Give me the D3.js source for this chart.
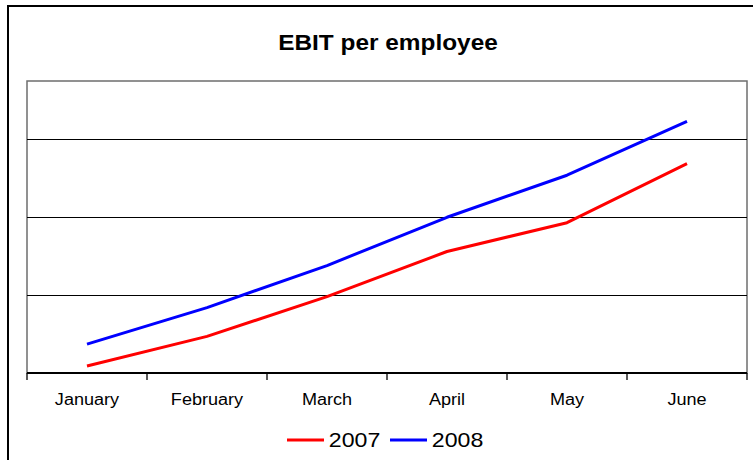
<!DOCTYPE html>
<html>
<head>
<meta charset="utf-8">
<script src="https://cdn.jsdelivr.net/npm/d3@7"></script>
<style>
body { margin: 0; background: #fff; }
text { font-family: Arial, "Liberation Sans", sans-serif; }
</style>
</head>
<body>
<div id="chart"></div>
<script>
//EBIT per employee, 2007 vs 2008 by month
var months = ["January", "February", "March", "April", "May", "June"];
var seriesNames = ["2007", "2008"];
var seriesColors = ["#ff0000", "#0000ff"];
var ebit2007 = [9, 47, 98, 156, 193, 269];
var ebit2008 = [37, 84, 138, 200, 254, 323];
var gridTicks = [100, 200, 300];

var W = 753, H = 460;
var margin = {top: 81, right: 6, bottom: 87, left: 27},
	width = W - margin.left - margin.right,
	height = H - margin.top - margin.bottom;
var sx = 1.13; // text is a bit stretched sideways in the original

var svg = d3.select("#chart").append("svg")
	.attr("width", W)
	.attr("height", H);

// outer chart frame (right and bottom edges fall outside the picture)
svg.append("rect")
	.attr("x", 8).attr("y", 6)
	.attr("width", W + 20).attr("height", H + 20)
	.attr("fill", "#fff")
	.attr("stroke", "#000")
	.attr("stroke-width", 2);

function stretchedText(parent, x, y, str, size, weight) {
	return parent.append("text")
		.attr("transform", "translate(" + x + "," + y + ") scale(" + sx + ",1)")
		.attr("text-anchor", "middle")
		.style("font-size", size + "px")
		.style("font-weight", weight || "normal")
		.attr("fill", "#000")
		.text(str);
}

// title
stretchedText(svg, 388, 50, "EBIT per employee", 21.6, "bold");

var g = svg.append("g")
	.attr("transform", "translate(" + margin.left + "," + margin.top + ")");

var x = d3.scaleBand()
	.domain(months)
	.range([0, width]);
var y = d3.scaleLinear()
	.domain([0, 375])
	.range([height, 0]);

// plot area frame
g.append("rect")
	.attr("x", 0).attr("y", 0)
	.attr("width", width).attr("height", height)
	.attr("fill", "none")
	.attr("stroke", "#6e6e6e")
	.attr("stroke-width", 1.5);

// gridlines
g.selectAll(".grid")
	.data(gridTicks)
	.enter().append("line")
		.attr("class", "grid")
		.attr("x1", 0).attr("x2", width)
		.attr("y1", function(d){ return Math.round(y(d)) + 0.5; })
		.attr("y2", function(d){ return Math.round(y(d)) + 0.5; })
		.attr("stroke", "#000")
		.attr("stroke-width", 1);

// x axis: ticks on the band edges
var xAxis = g.append("g")
	.attr("transform", "translate(0," + height + ")");
xAxis.append("line")
	.attr("x1", 0).attr("x2", width)
	.attr("stroke", "#000")
	.attr("stroke-width", 2);
var edges = months.map(function(m){ return x(m); }).concat([width]);
xAxis.selectAll(".tick")
	.data(edges)
	.enter().append("line")
		.attr("class", "tick")
		.attr("x1", function(d){ return d; })
		.attr("x2", function(d){ return d; })
		.attr("y1", 0).attr("y2", 7)
		.attr("stroke", "#000")
		.attr("stroke-width", 1.3);
months.forEach(function(m){
	stretchedText(xAxis, x(m) + x.bandwidth() / 2, 32, m, 16);
});

// lines
var line = d3.line()
	.x(function(d, i){ return x(months[i]) + x.bandwidth() / 2; })
	.y(function(d){ return y(d); });

[ebit2007, ebit2008].forEach(function(vals, k){
	g.append("path")
		.datum(vals)
		.attr("fill", "none")
		.attr("stroke", seriesColors[k])
		.attr("stroke-width", 3)
		.attr("stroke-linejoin", "round")
		.attr("d", line);
});

// legend
var legend = svg.append("g");
var legendX = [287, 390];
seriesNames.forEach(function(s, k){
	legend.append("line")
		.attr("x1", legendX[k]).attr("x2", legendX[k] + 37)
		.attr("y1", 440).attr("y2", 440)
		.attr("stroke", seriesColors[k])
		.attr("stroke-width", 3);
	stretchedText(legend, legendX[k] + 42 + 25.5, 447, s, 20.5)
		.attr("text-anchor", "middle");
});
</script>
</body>
</html>
